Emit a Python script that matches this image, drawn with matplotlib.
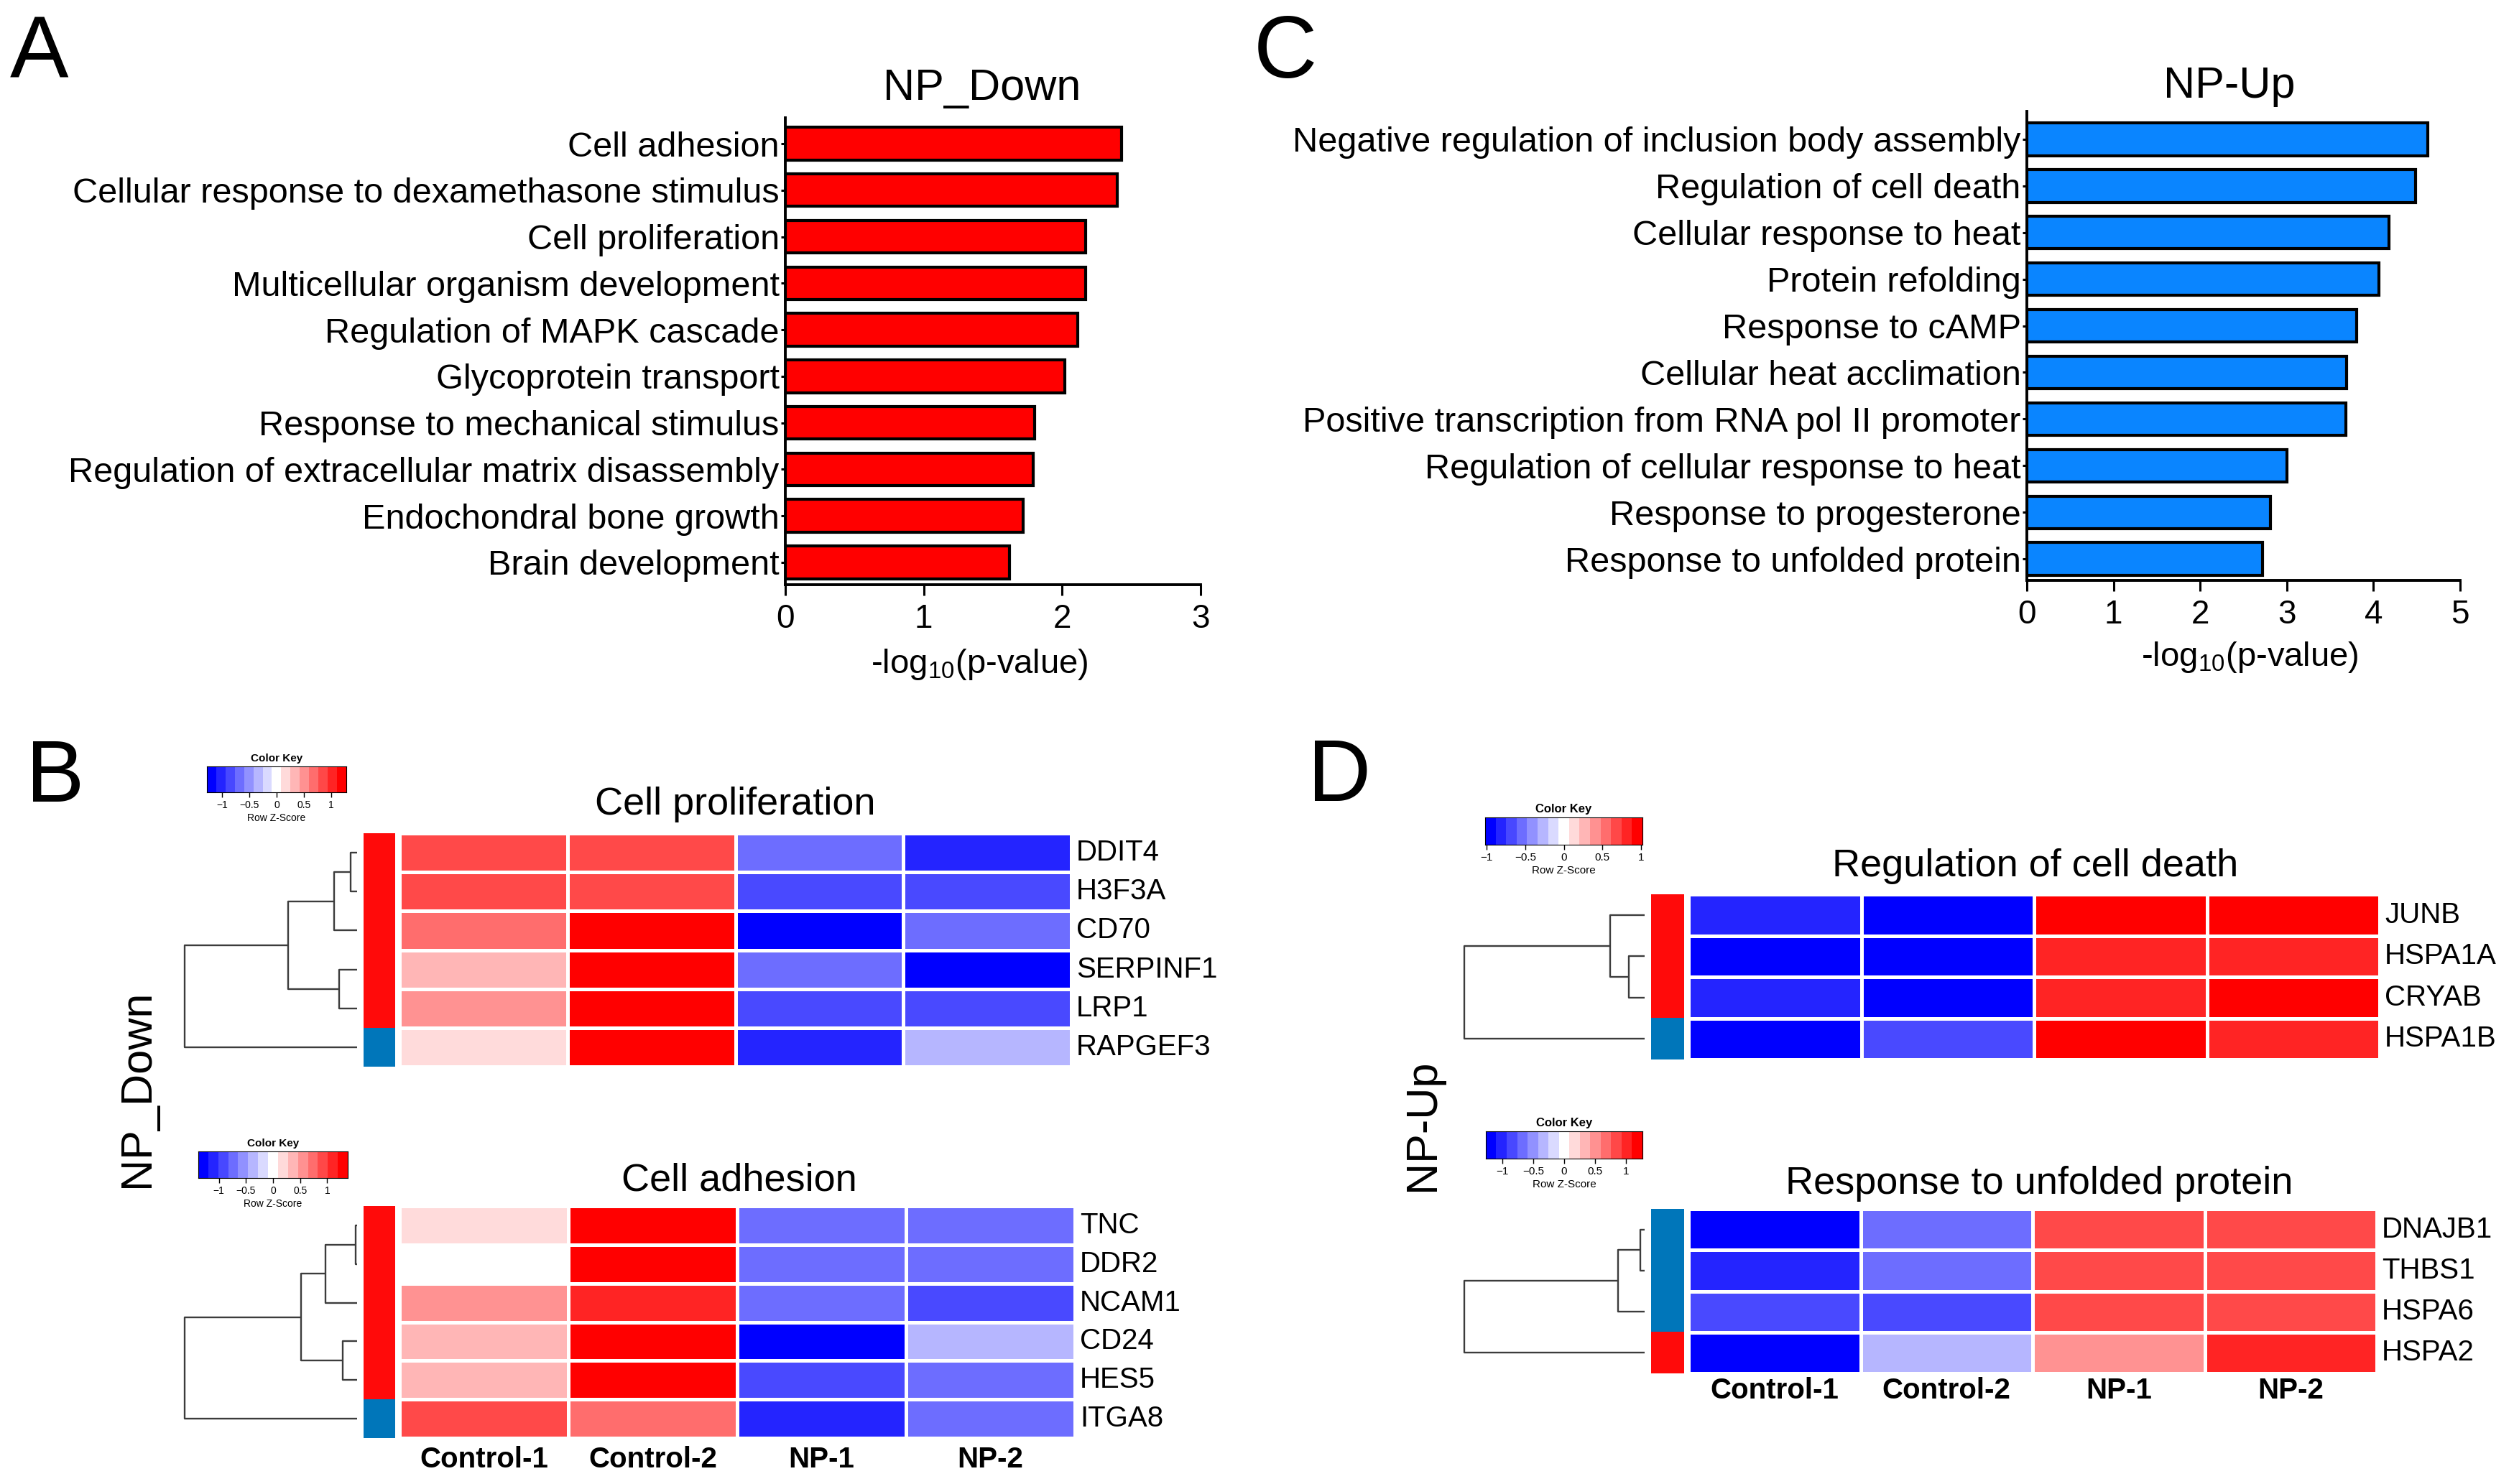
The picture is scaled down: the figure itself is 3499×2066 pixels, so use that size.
"""Figura GO + heatmaps (NP_Down / NP-Up)."""

import numpy as np
import matplotlib

matplotlib.use('Agg')
import matplotlib.pyplot as plt  # noqa: E402
from matplotlib.colors import ListedColormap, BoundaryNorm  # noqa: E402

plt.rcParams['font.family'] = ['Liberation Sans', 'DejaVu Sans']
plt.rcParams['mathtext.fontset'] = 'custom'
plt.rcParams['mathtext.rm'] = 'Liberation Sans'
plt.rcParams['mathtext.it'] = 'Liberation Sans:italic'

W, H = 3499, 2066
DPI = 100

# ---------------- dados ----------------
down_terms = [
    'Cell adhesion',
    'Cellular response to dexamethasone stimulus',
    'Cell proliferation',
    'Multicellular organism development',
    'Regulation of MAPK cascade',
    'Glycoprotein transport',
    'Response to mechanical stimulus',
    'Regulation of extracellular matrix disassembly',
    'Endochondral bone growth',
    'Brain development',
]
down_vals = [2.43, 2.40, 2.17, 2.17, 2.11, 2.02, 1.80, 1.79, 1.72, 1.62]

up_terms = [
    'Negative regulation of inclusion body assembly',
    'Regulation of cell death',
    'Cellular response to heat',
    'Protein refolding',
    'Response to cAMP',
    'Cellular heat acclimation',
    'Positive transcription from RNA pol II promoter',
    'Regulation of cellular response to heat',
    'Response to progesterone',
    'Response to unfolded protein',
]
up_vals = [4.63, 4.49, 4.18, 4.06, 3.81, 3.69, 3.68, 3.00, 2.81, 2.72]

samples = ['Control-1', 'Control-2', 'NP-1', 'NP-2']

prolif_genes = ['DDIT4', 'H3F3A', 'CD70', 'SERPINF1', 'LRP1', 'RAPGEF3']
prolif_z = [
    [0.72, 0.70, -0.59, -0.86],
    [0.73, 0.69, -0.72, -0.71],
    [0.59, 0.87, -0.88, -0.60],
    [0.31, 0.98, -0.58, -0.87],
    [0.46, 0.97, -0.73, -0.70],
    [0.19, 0.99, -0.86, -0.32],
]
prolif_side = [1, 1, 1, 1, 1, 0]
prolif_tree = [(0, 1, 0.037), (6, 2, 0.135), (3, 4, 0.104), (7, 8, 0.40), (9, 5, 1.0)]

adhes_genes = ['TNC', 'DDR2', 'NCAM1', 'CD24', 'HES5', 'ITGA8']
adhes_z = [
    [0.18, 0.98, -0.59, -0.60],
    [0.02, 0.97, -0.60, -0.58],
    [0.45, 0.86, -0.59, -0.72],
    [0.20, 0.98, -0.87, -0.31],
    [0.32, 0.97, -0.73, -0.58],
    [0.72, 0.60, -0.86, -0.59],
]
adhes_side = [1, 1, 1, 1, 1, 0]
adhes_tree = [(0, 1, 0.01), (6, 2, 0.185), (3, 4, 0.083), (7, 8, 0.324), (9, 5, 1.0)]

death_genes = ['JUNB', 'HSPA1A', 'CRYAB', 'HSPA1B']
death_z = [
    [-0.86, -0.98, 0.98, 0.87],
    [-0.97, -0.87, 0.86, 0.85],
    [-0.86, -0.87, 0.86, 0.97],
    [-0.98, -0.72, 0.98, 0.86],
]
death_side = [1, 1, 1, 0]
death_tree = [(1, 2, 0.089), (0, 4, 0.19), (5, 3, 1.0)]

unfold_genes = ['DNAJB1', 'THBS1', 'HSPA6', 'HSPA2']
unfold_z = [
    [-0.87, -0.59, 0.72, 0.71],
    [-0.86, -0.60, 0.71, 0.72],
    [-0.73, -0.72, 0.72, 0.70],
    [-0.98, -0.32, 0.45, 0.86],
]
unfold_side = [0, 0, 0, 1]
unfold_tree = [(0, 1, 0.022), (4, 2, 0.147), (5, 3, 1.0)]

key_ticks = [-1, -0.5, 0, 0.5, 1]
key_labels = ['\u22121', '\u22120.5', '0', '0.5', '1']

# ---------------- estilo ----------------
COR_DOWN = '#FF0000'
COR_UP = '#0A85FF'
COR_SIDE = ['#0076BA', '#FF0A0A']

_blues = [(i / 7, i / 7, 1.0) for i in range(7)]
_reds = [(1.0, 1 - j / 7, 1 - j / 7) for j in range(1, 8)]
CMAP = ListedColormap(_blues + [(1.0, 1.0, 1.0)] + _reds)
NORM = BoundaryNorm(np.linspace(-1, 1, 16), CMAP.N, clip=True)
SIDE_CMAP = ListedColormap(COR_SIDE)


def px_axes(fig, left, top, right, bottom):
    return fig.add_axes([left / W, 1 - bottom / H, (right - left) / W, (bottom - top) / H])


def px_text(fig, x, y, s, **kw):
    return fig.text(x / W, 1 - y / H, s, **kw)


def bar_panel(fig, box, ylim, terms, vals, color, xmax):
    ax = px_axes(fig, *box)
    y = np.arange(len(terms))
    ax.barh(y, vals, height=0.7, color=color, edgecolor='black', linewidth=3.0)
    ax.set_yticks(y)
    ax.set_yticklabels(terms, fontsize=35)
    ax.set_ylim(*ylim)
    ax.set_xlim(0, xmax)
    ax.set_xticks(range(xmax + 1))
    ax.tick_params(axis='x', labelsize=33, length=11, width=2.2, pad=8)
    ax.tick_params(axis='y', length=4, width=2.2, pad=2)
    for s in ('top', 'right'):
        ax.spines[s].set_visible(False)
    for s in ('left', 'bottom'):
        ax.spines[s].set_linewidth(2.8)
    return ax


def draw_dendro(ax, tree, n):
    ypos = {i: i + 0.5 for i in range(n)}
    hpos = {i: 0.0 for i in range(n)}
    node = n
    for a, b, h in tree:
        ax.plot([hpos[a], h, h, hpos[b]], [ypos[a], ypos[a], ypos[b], ypos[b]],
                color='#3C3C3C', lw=1.7, clip_on=False, solid_capstyle='butt')
        ypos[node] = (ypos[a] + ypos[b]) / 2
        hpos[node] = h
        node += 1
    ax.set_xlim(max(t[2] for t in tree), 0)
    ax.set_ylim(n, 0)
    ax.axis('off')


def heatmap(fig, cells, side_box, dendro_box, genes, z, side, tree, col_gap=None):
    n = len(genes)
    ax = px_axes(fig, *cells)
    ax.pcolormesh(np.array(z), cmap=CMAP, norm=NORM, edgecolors='white', linewidth=2.2)
    ax.set_ylim(n, 0)
    ax.set_xlim(0, len(samples))
    ax.axis('off')
    for i, g in enumerate(genes):
        ax.annotate(g, xy=(1, i + 0.5), xycoords=('axes fraction', 'data'),
                    xytext=(7, 0), textcoords='offset pixels',
                    ha='left', va='center', fontsize=29)
    if col_gap is not None:
        for j, s in enumerate(samples):
            ax.annotate(s, xy=(j + 0.5, 0), xycoords=('data', 'axes fraction'),
                        xytext=(0, -col_gap), textcoords='offset pixels',
                        ha='center', va='center', fontsize=29, fontweight='bold')
    axs = px_axes(fig, *side_box)
    axs.imshow(np.array(side).reshape(-1, 1), cmap=SIDE_CMAP, vmin=0, vmax=1,
               aspect='auto', extent=(0, 1, n, 0), interpolation='nearest')
    axs.axis('off')
    axd = px_axes(fig, *dendro_box)
    draw_dendro(axd, tree, n)


def color_key(fig, box, lim, fs):
    ax = px_axes(fig, *box)
    ax.imshow(np.arange(15).reshape(1, -1), cmap=CMAP, aspect='auto',
              extent=(-lim, lim, 0, 1), interpolation='nearest')
    ax.set_xlim(-lim, lim)
    ax.set_ylim(0, 1)
    ax.set_yticks([])
    ax.set_xticks(key_ticks)
    ax.set_xticklabels(key_labels)
    ax.tick_params(axis='x', length=5, width=1.0, labelsize=fs - 1, pad=3)
    ax.set_title('Color Key', fontsize=fs, fontweight='bold', pad=5)
    ax.set_xlabel('Row Z-Score', fontsize=fs - 1, labelpad=3)
    for s in ax.spines.values():
        s.set_linewidth(0.8)


fig = plt.figure(figsize=(W / DPI, H / DPI), dpi=DPI)
fig.patch.set_facecolor('white')

# ---- A ----
bar_panel(fig, (1093, 164, 1671, 814), (9.48, -0.556), down_terms, down_vals, COR_DOWN, 3)
px_text(fig, 1367, 139, 'NP_Down', fontsize=44, ha='center', va='baseline')
px_text(fig, 1363, 925, '-log$_{10}$(p-value)', fontsize=34, ha='center', va='center')

# ---- C ----
bar_panel(fig, (2821, 155, 3424, 808), (9.46, -0.6), up_terms, up_vals, COR_UP, 5)
px_text(fig, 3103, 136, 'NP-Up', fontsize=44, ha='center', va='baseline')
px_text(fig, 3131, 915, '-log$_{10}$(p-value)', fontsize=34, ha='center', va='center')

# ---- B ----
heatmap(fig, (556, 1160, 1491, 1485), (506, 1160, 550, 1485), (257, 1160, 497, 1485),
        prolif_genes, prolif_z, prolif_side, prolif_tree)
px_text(fig, 1023, 1134, 'Cell proliferation', fontsize=39, ha='center', va='baseline')
color_key(fig, (288, 1067, 482, 1103), 1.28, 11)

heatmap(fig, (556, 1679, 1496, 2002), (506, 1679, 550, 2002), (257, 1679, 497, 2002),
        adhes_genes, adhes_z, adhes_side, adhes_tree, col_gap=30)
px_text(fig, 1029, 1658, 'Cell adhesion', fontsize=39, ha='center', va='baseline')
color_key(fig, (276, 1603, 484, 1640), 1.38, 11)

px_text(fig, 192, 1515, 'NP_Down', fontsize=44, rotation=90, ha='center', va='center')

# ---- D ----
heatmap(fig, (2350, 1245, 3312, 1475), (2298, 1245, 2344, 1475), (2038, 1245, 2289, 1475),
        death_genes, death_z, death_side, death_tree)
px_text(fig, 2833, 1220, 'Regulation of cell death', fontsize=39, ha='center', va='baseline')
color_key(fig, (2067, 1138, 2286, 1176), 1.02, 12)

heatmap(fig, (2350, 1683, 3308, 1912), (2298, 1683, 2344, 1912), (2038, 1683, 2289, 1912),
        unfold_genes, unfold_z, unfold_side, unfold_tree, col_gap=24)
px_text(fig, 2838, 1662, 'Response to unfolded protein', fontsize=39, ha='center', va='baseline')
color_key(fig, (2068, 1575, 2286, 1613), 1.27, 12)

px_text(fig, 1981, 1566, 'NP-Up', fontsize=44, rotation=90, ha='center', va='center')

# ---- letras ----
for letra, x, y in [('A', 14, 108), ('C', 1745, 108), ('B', 36, 1116), ('D', 1820, 1115)]:
    px_text(fig, x, y, letra, fontsize=88, ha='left', va='baseline')

fig.savefig('out.png', dpi=DPI, facecolor='white')
